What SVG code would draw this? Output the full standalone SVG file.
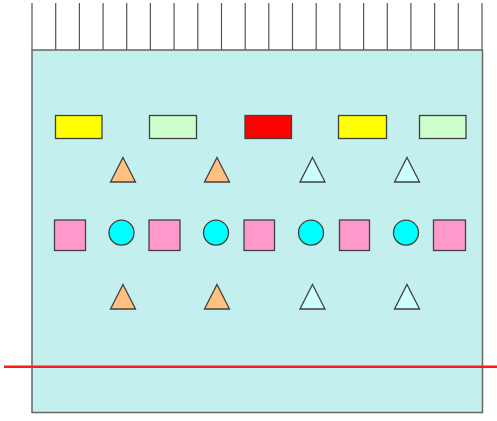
<svg xmlns="http://www.w3.org/2000/svg" width="497" height="421" viewBox="0 0 497 421">
<style>
.tick{stroke:#555;stroke-width:1.2}
.s{stroke:#404040;stroke-width:1.3}
.y{fill:#ffff00}.g{fill:#ccffcc}.r{fill:#ff0000}
.p{fill:#ff99cc}.c{fill:#00ffff}.o{fill:#ffc080}.l{fill:#ccffff}
</style>
<defs>
<polygon id="tri" points="0,-12.5 12.5,12 -12.5,12"/>
</defs>
<g id="ticks">
<line class="tick" x1="32" y1="3" x2="32" y2="50"/>
<line class="tick" x1="55.7" y1="3" x2="55.7" y2="50"/>
<line class="tick" x1="79.4" y1="3" x2="79.4" y2="50"/>
<line class="tick" x1="103.1" y1="3" x2="103.1" y2="50"/>
<line class="tick" x1="126.7" y1="3" x2="126.7" y2="50"/>
<line class="tick" x1="150.4" y1="3" x2="150.4" y2="50"/>
<line class="tick" x1="174.1" y1="3" x2="174.1" y2="50"/>
<line class="tick" x1="197.8" y1="3" x2="197.8" y2="50"/>
<line class="tick" x1="221.5" y1="3" x2="221.5" y2="50"/>
<line class="tick" x1="245.2" y1="3" x2="245.2" y2="50"/>
<line class="tick" x1="268.8" y1="3" x2="268.8" y2="50"/>
<line class="tick" x1="292.5" y1="3" x2="292.5" y2="50"/>
<line class="tick" x1="316.2" y1="3" x2="316.2" y2="50"/>
<line class="tick" x1="339.9" y1="3" x2="339.9" y2="50"/>
<line class="tick" x1="363.6" y1="3" x2="363.6" y2="50"/>
<line class="tick" x1="387.3" y1="3" x2="387.3" y2="50"/>
<line class="tick" x1="410.9" y1="3" x2="410.9" y2="50"/>
<line class="tick" x1="434.6" y1="3" x2="434.6" y2="50"/>
<line class="tick" x1="458.3" y1="3" x2="458.3" y2="50"/>
<line class="tick" x1="482" y1="3" x2="482" y2="50"/>
</g>
<g id="container">
<rect x="32" y="50" width="450.5" height="362.5" fill="#c4efef" stroke="#666" stroke-width="1.5"/>
</g>
<g id="row1">
<rect class="s y" x="55.5" y="115.5" width="46.5" height="23"/>
<rect class="s g" x="149.5" y="115.5" width="47" height="23"/>
<rect class="s r" x="245" y="115.5" width="46.5" height="23"/>
<rect class="s y" x="338.5" y="115.5" width="48" height="23"/>
<rect class="s g" x="419.5" y="115.5" width="46.5" height="23"/>
</g>
<g id="row2">
<use href="#tri" class="s o" x="123" y="170"/>
<use href="#tri" class="s o" x="217" y="170"/>
<use href="#tri" class="s l" x="312.5" y="170"/>
<use href="#tri" class="s l" x="407" y="170"/>
</g>
<g id="row3">
<rect class="s p" x="54.5" y="220" width="31" height="30.5"/>
<circle class="s c" cx="121.5" cy="232.7" r="12.5"/>
<rect class="s p" x="149" y="220" width="31" height="30.5"/>
<circle class="s c" cx="216" cy="232.7" r="12.5"/>
<rect class="s p" x="244" y="220" width="30.5" height="30.5"/>
<circle class="s c" cx="311" cy="232.7" r="12.5"/>
<rect class="s p" x="339.5" y="220" width="30" height="30.5"/>
<circle class="s c" cx="406" cy="232.7" r="12.5"/>
<rect class="s p" x="433.5" y="220" width="32" height="30.5"/>
</g>
<g id="row4">
<use href="#tri" class="s o" x="123" y="297"/>
<use href="#tri" class="s o" x="217" y="297"/>
<use href="#tri" class="s l" x="312.5" y="297"/>
<use href="#tri" class="s l" x="407" y="297"/>
</g>
<g id="connectors">
<line x1="4" y1="366.7" x2="497" y2="366.7" stroke="#ff1a1a" stroke-width="2.5"/>
</g>
</svg>
